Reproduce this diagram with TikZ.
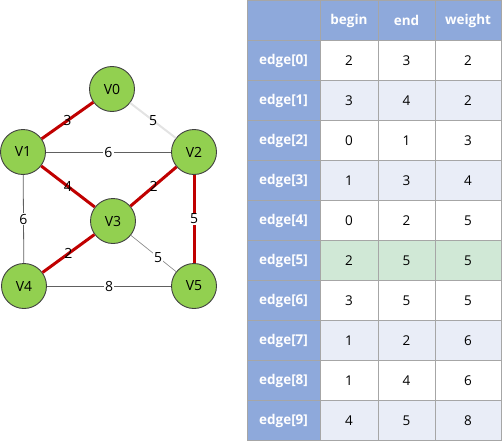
\documentclass[tikz,border=0pt]{standalone}
\usepackage{fontspec}
\setmainfont{Open Sans}
\definecolor{vtxGreen}{HTML}{92D050}
\definecolor{vtxLine}{HTML}{404040}
\definecolor{mstRed}{HTML}{C00000}
\definecolor{edgeGray}{HTML}{606060}
\definecolor{edgeFaint}{HTML}{E3E3E3}
\definecolor{hdrBlue}{HTML}{8EA9DB}
\definecolor{rowBand}{HTML}{E9EDF7}
\definecolor{rowHit}{HTML}{D0E8D6}
\definecolor{gridGray}{HTML}{A6A6A6}
\usetikzlibrary{positioning}

\tikzset{
  vertex/.style={circle, draw=vtxLine, line width=0.9pt, fill=vtxGreen,
    minimum size=45pt, inner sep=0pt, font=\fontsize{14}{16}\selectfont},
  wlabel/.style={fill=white, inner sep=1pt, font=\fontsize{14}{16}\selectfont},
  mst/.style={draw=mstRed, line width=3pt},
  plain/.style={draw=edgeGray, line width=0.8pt},
  cell/.style={draw=gridGray, line width=1pt, minimum height=40pt, inner sep=0pt,
    font=\fontsize{13.5}{16}\selectfont},
  hdrcell/.style={cell, fill=hdrBlue, text=white, font=\fontsize{13.5}{16}\selectfont\bfseries}
}

\begin{document}
\begin{tikzpicture}[x=1pt, y=-1pt]
  \useasboundingbox (0,0) rectangle (502,441);

  % graph
  \node[vertex] (v0) at (112,89) {V0};
  \node[vertex] (v1) at (23,152) {V1};
  \node[vertex] (v2) at (194,152) {V2};
  \node[vertex] (v3) at (113,221) {V3};
  \node[vertex] (v4) at (24,286) {V4};
  \node[vertex] (v5) at (194,286) {V5};

  \draw[draw=edgeFaint, line width=2pt] (v0) -- node[wlabel, fill=none] {5} (v2);
  \draw[plain] (v1) -- node[wlabel] {6} (v2);
  \draw[plain] (v1) -- node[wlabel] {6} (v4);
  \draw[plain] (v4) -- node[wlabel] {8} (v5);
  \draw[draw=edgeGray!80, line width=0.6pt] (v3) -- node[wlabel, pos=0.6] {5} (v5);
  \draw[mst] (v0) -- node[wlabel, fill=none] {3} (v1);
  \draw[mst] (v1) -- node[wlabel, fill=none] {4} (v3);
  \draw[mst] (v3) -- node[wlabel, fill=none] {2} (v2);
  \draw[mst] (v2) -- node[wlabel] {5} (v5);
  \draw[mst] (v3) -- node[wlabel, fill=none] {2} (v4);

  % table
  \node[hdrcell, minimum width=73pt] (h0) at (283.5,20.5) {};
  \node[hdrcell, minimum width=58pt] (h1) at (349,20.5) {begin};
  \node[hdrcell, minimum width=57pt] (h2) at (406.5,20.5) {end};
  \node[hdrcell, minimum width=66pt] (h3) at (468,20.5) {weight};

  \foreach \i/\b/\e/\w/\bg in {0/2/3/2/white, 1/3/4/2/rowBand, 2/0/1/3/white,
      3/1/3/4/rowBand, 4/0/2/5/white, 5/2/5/5/rowHit, 6/3/5/5/white,
      7/1/2/6/rowBand, 8/1/4/6/white, 9/4/5/8/rowBand} {
    \pgfmathsetmacro\yc{60.5+40*\i}
    \node[hdrcell, minimum width=73pt] (e\i) at (283.5,\yc) {edge[\i]};
    \node[cell, fill=\bg, minimum width=58pt] (b\i) at (349,\yc) {\b};
    \node[cell, fill=\bg, minimum width=57pt] (n\i) at (406.5,\yc) {\e};
    \node[cell, fill=\bg, minimum width=66pt] (w\i) at (468,\yc) {\w};
  }
\end{tikzpicture}
\end{document}
